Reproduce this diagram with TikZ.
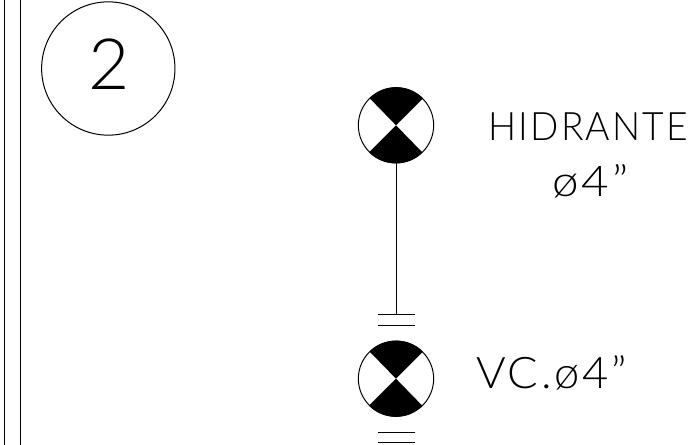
\documentclass[tikz,border=0pt]{standalone}
\usepackage{fontspec}
\usepackage{graphicx}
\setmainfont{Lato Light}[LetterSpace=6]
\newcommand{\fitbox}[3]{\resizebox{#1}{#2}{\fontsize{30}{30}\selectfont #3}}
\tikzset{
  thinline/.style={draw=black,line width=0.75pt},
  tag/.style={inner sep=0pt,anchor=base west,text=black},
  valve/.style={circle,draw=black,line width=0.75pt,minimum size=56.5pt,inner sep=0pt},
  wedge/.style={fill=black,draw=none}
}
\begin{document}
\begin{tikzpicture}[x=0.75pt,y=-0.75pt]
\useasboundingbox (0,0) rectangle (692,445);
\coordinate (l1t) at (4.5,0); \coordinate (l1b) at (4.5,445);
\coordinate (l2t) at (20,0); \coordinate (l2b) at (20,445);
\draw[thinline] (l1t) -- (l1b);
\draw[thinline] (l2t) -- (l2b);
\node[circle,thinline,minimum size=100pt,inner sep=0pt] (bubble) at (108.3,68.5) {};
\node[tag] (two) at (88,90) {\fitbox{31pt}{38pt}{2}};
\node[valve] (hyd) at (396,125.3) {};
\node[valve] (vc) at (396,378.7) {};
\foreach \n in {hyd,vc}{
  \fill[wedge] (\n.center) -- (\n.45) arc[start angle=45,end angle=135,radius=28.25pt] -- cycle;
  \fill[wedge] (\n.center) -- (\n.225) arc[start angle=225,end angle=315,radius=28.25pt] -- cycle;
}
\coordinate (b1l) at (378,314.3); \coordinate (b1r) at (415,314.3);
\coordinate (b2l) at (378,325.3); \coordinate (b2r) at (415,325.3);
\coordinate (b3l) at (378,432); \coordinate (b3r) at (415,432);
\coordinate (b4l) at (378,442.7); \coordinate (b4r) at (415,442.7);
\coordinate (j) at (396,314.3);
\draw[thinline] (hyd.south) -- (j);
\draw[thinline] (b1l) -- (b1r);
\draw[thinline] (b2l) -- (b2r);
\draw[thinline] (b3l) -- (b3r);
\draw[thinline] (b4l) -- (b4r);
\node[tag] (t1) at (488,141) {\fitbox{150pt}{20.8pt}{HIDRANTE}};
\node[tag] (t2) at (552,197) {\fitbox{57pt}{24pt}{ø4”}};
\node[tag] (t3) at (476,388) {\fitbox{113pt}{24.7pt}{VC.ø4”}};
\end{tikzpicture}
\end{document}
